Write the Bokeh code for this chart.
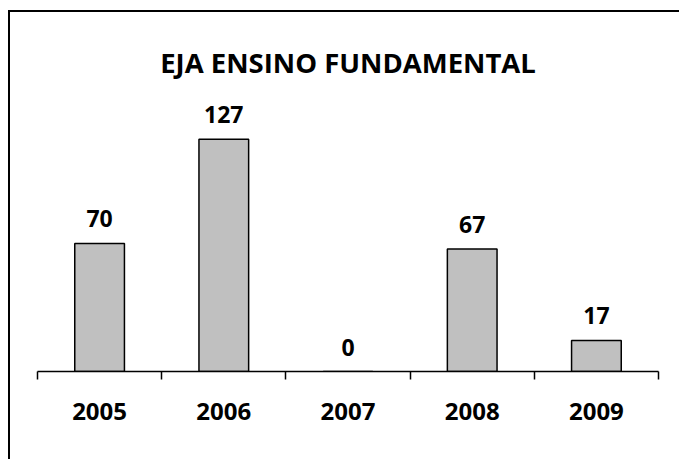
from bokeh.plotting import figure
from bokeh.models import ColumnDataSource, LabelSet, FixedTicker, Range1d
from bokeh.core.properties import value
from bokeh.embed import file_html
from bokeh.resources import INLINE

years = ["2005", "2006", "2007", "2008", "2009"]
values = [70, 127, 0, 67, 17]
title_text = "EJA ENSINO FUNDAMENTAL"

xpos = [i + 1 for i in range(len(years))]
src = ColumnDataSource(dict(x=xpos, top=values, label=[str(v) for v in values]))

FONT = "Open Sans"

p = figure(width=671, height=449, output_backend="svg", toolbar_location=None,
           x_range=Range1d(0.5, len(years) + 0.5), y_range=Range1d(0, 152.5),
           min_border_left=29, min_border_right=21, min_border_bottom=88, min_border_top=82,
           title=title_text)
p.margin = (10, 0, 0, 8)
p.styles = {"box-shadow": "inset 2px 2px 0 0 #000"}
p.border_fill_color = None
p.background_fill_color = None
p.outline_line_color = None
p.grid.visible = False
p.yaxis.visible = False

p.title.align = "center"
p.title.text_font = FONT
p.title.text_font_style = "bold"
p.title.text_font_size = "27.5px"
p.title.text_color = "black"
p.title.standoff = 23

p.vbar(x="x", top="top", width=0.4, source=src, fill_color="#C0C0C0",
       line_color="black", line_width=1.5)

labels = LabelSet(x="x", y="top", text="label", source=src, text_align="center",
                  text_baseline="alphabetic", y_offset=16, text_font=value(FONT),
                  text_font_style=value("bold"), text_font_size=value("23px"),
                  text_color=value("black"))
p.add_layout(labels)

ax = p.xaxis[0]
ax.ticker = FixedTicker(ticks=xpos, minor_ticks=[i + 0.5 for i in range(len(years) + 1)])
ax.major_label_overrides = {x: y for x, y in zip(xpos, years)}
ax.major_tick_out = 0
ax.major_tick_in = 0
ax.minor_tick_out = 8
ax.minor_tick_in = 0
ax.minor_tick_line_color = "black"
ax.minor_tick_line_width = 1.5
ax.axis_line_color = "black"
ax.axis_line_width = 1.5
ax.major_label_standoff = 23
ax.major_label_text_font = FONT
ax.major_label_text_font_style = "bold"
ax.major_label_text_font_size = "24px"
ax.major_label_text_color = "black"

open("out.html", "w").write(file_html(p, INLINE))
